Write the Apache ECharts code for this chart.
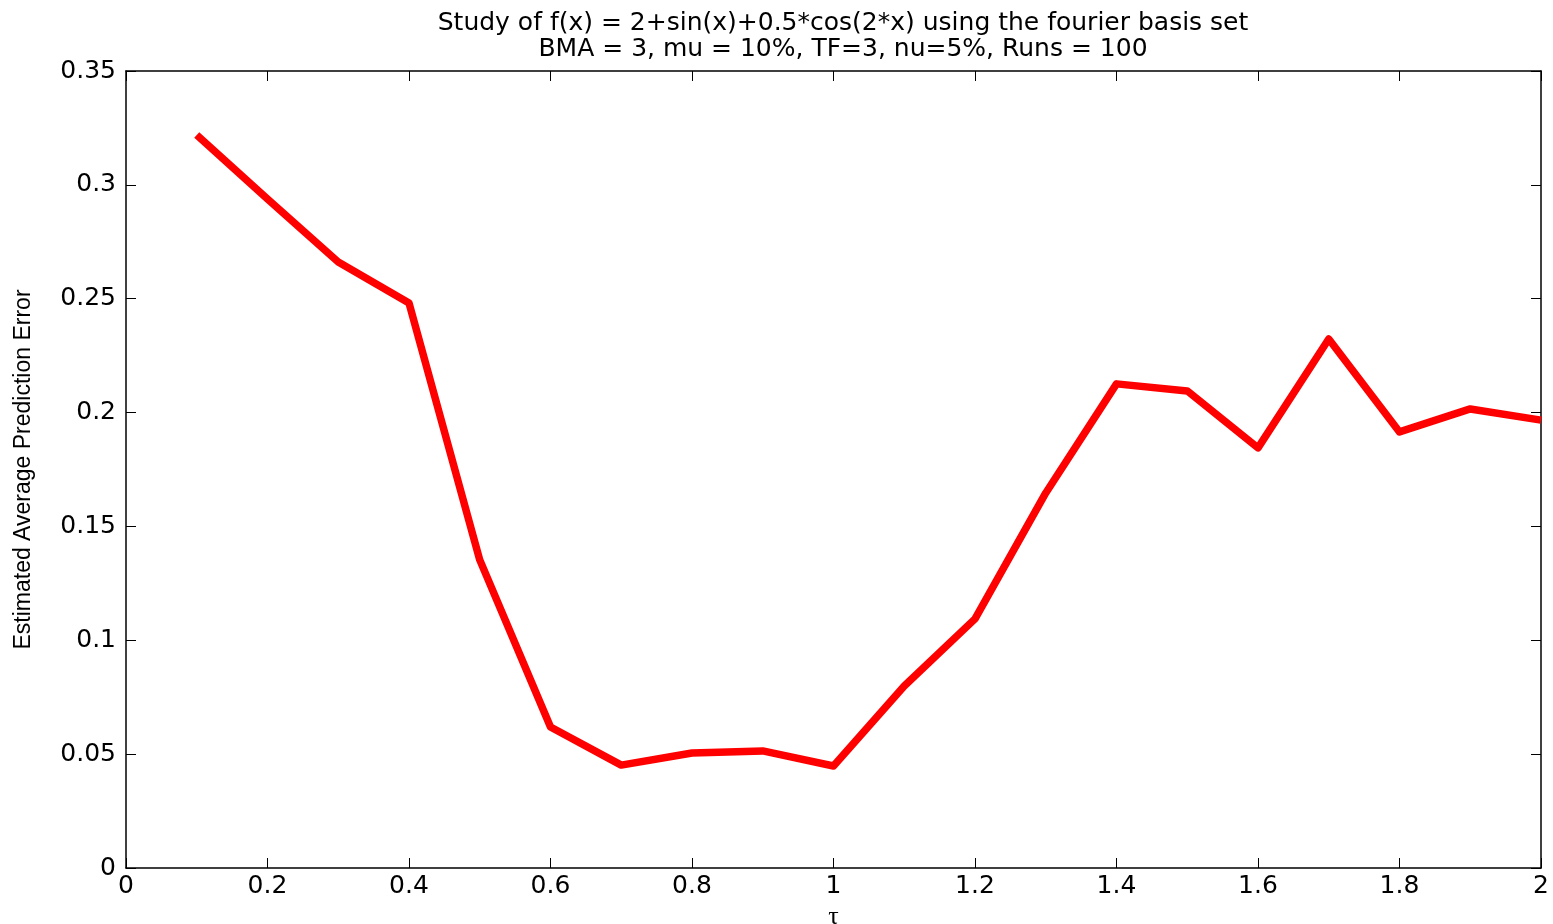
<!DOCTYPE html>
<html>
<head>
<meta charset="utf-8">
<script src="https://cdn.jsdelivr.net/npm/echarts@6/dist/echarts.min.js"></script>
<style>
html,body{margin:0;padding:0;background:#fff;}
#chart{width:1553px;height:924px;}
</style>
</head>
<body>
<div id="chart"></div>
<script>
// Data
var tau = [0.1, 0.2, 0.3, 0.4, 0.5, 0.6, 0.7, 0.8, 0.9, 1.0, 1.1, 1.2, 1.3, 1.4, 1.5, 1.6, 1.7, 1.8, 1.9, 2.0];
var err = [0.3219, 0.2938, 0.2661, 0.2481, 0.1353, 0.0619, 0.0452, 0.0505, 0.0514, 0.0448, 0.0799, 0.1094, 0.1647, 0.2126, 0.2095, 0.1845, 0.2323, 0.1915, 0.2016, 0.1967];
var titleLines = ['Study of f(x) = 2+sin(x)+0.5*cos(2*x) using the fourier basis set', 'BMA = 3, mu = 10%, TF=3, nu=5%, Runs = 100'];
var xName = 'τ';
var yName = 'Estimated Average Prediction Error';

var points = tau.map(function (t, i) { return [t, err[i]]; });

var tickFont = 'DejaVu Sans';
function axisBase() {
  return {
    type: 'value',
    axisLine: { show: true, onZero: false, lineStyle: { color: '#000', width: 1.5 } },
    axisTick: { show: true, inside: true, length: 10, lineStyle: { color: '#000', width: 1 } },
    splitLine: { show: false }
  };
}

var chart = echarts.init(document.getElementById('chart'), null, { renderer: 'canvas' });
chart.setOption({
  backgroundColor: '#fff',
  animation: false,
  title: {
    text: titleLines.join('\n'),
    left: 838, top: 5, textAlign: 'center',
    textStyle: { fontFamily: tickFont, fontSize: 25, fontWeight: 'normal', color: '#000', lineHeight: 26 }
  },
  grid: { left: 126, right: 12, top: 71, bottom: 56, containLabel: false, outerBoundsMode: 'none' },
  xAxis: [
    Object.assign(axisBase(), {
      position: 'bottom', min: 0, max: 2, interval: 0.2,
      axisLabel: { color: '#000', fontFamily: tickFont, fontSize: 25, margin: 6 },
      name: xName, nameLocation: 'middle', nameGap: 32,
      nameTextStyle: { color: '#000', fontFamily: 'Liberation Serif', fontSize: 26 }
    }),
    Object.assign(axisBase(), {
      position: 'top', min: 0, max: 2, interval: 0.2,
      axisLabel: { show: false }
    })
  ],
  yAxis: [
    Object.assign(axisBase(), {
      position: 'left', min: 0, max: 0.35, interval: 0.05,
      axisLabel: { color: '#000', fontFamily: tickFont, fontSize: 25, margin: 10 },
      name: yName, nameLocation: 'middle', nameRotate: 90, nameGap: 91,
      nameTextStyle: { color: '#000', fontFamily: 'Liberation Sans', fontSize: 23 }
    }),
    Object.assign(axisBase(), {
      position: 'right', min: 0, max: 0.35, interval: 0.05,
      axisLabel: { show: false }
    })
  ],
  series: [{
    type: 'line',
    data: points,
    showSymbol: false,
    lineStyle: { color: '#ff0000', width: 7.5, cap: 'butt', join: 'round' },
    itemStyle: { color: '#ff0000' }
  }]
});
</script>
</body>
</html>
